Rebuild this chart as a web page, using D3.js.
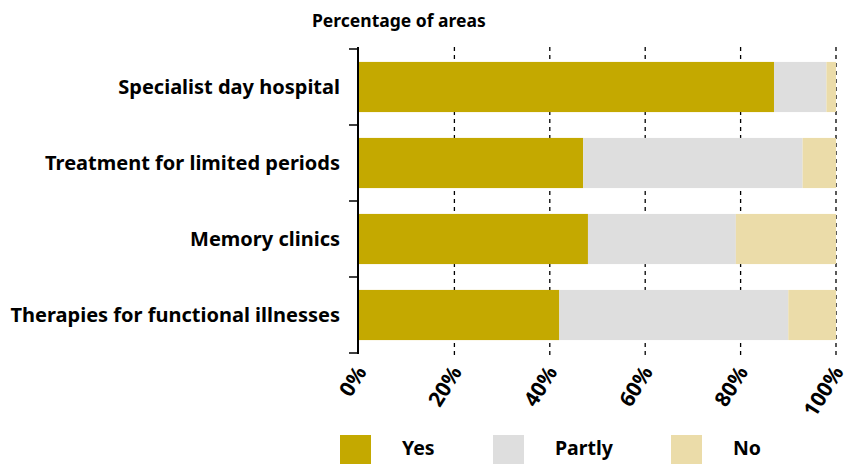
<!DOCTYPE html>
<html><head><meta charset="utf-8">
<script src="https://cdn.jsdelivr.net/npm/d3@7"></script>
<style>body{margin:0;background:#fff}svg{display:block}text{font-family:"Noto Sans",sans-serif;font-weight:bold;fill:#000}</style>
</head><body><svg id="c" width="848" height="464"></svg>
<script>
const categories = ["Specialist day hospital","Treatment for limited periods","Memory clinics","Therapies for functional illnesses"];
const seriesNames = ["Yes","Partly","No"];
const yesValues = [87,47,48,42];
const partlyValues = [11,46,31,48];
const noValues = [2,7,21,10];
const tickValues = [0,20,40,60,80,100];
const colors = ["#C4A900","#DEDEDE","#EBDCA9"];

const svg = d3.select("#c");
const x = d3.scaleLinear().domain([0,100]).range([359,836]);
const y = d3.scaleBand().domain(categories).range([49,353]).paddingInner(0.34).paddingOuter(0.17);

// grid
svg.append("g").selectAll("line").data(tickValues.slice(1)).join("line")
  .attr("x1",d=>x(d)).attr("x2",d=>x(d)).attr("y1",47).attr("y2",355)
  .attr("stroke","#000").attr("stroke-width",1.3).attr("stroke-dasharray","4,4");

const stackData = categories.map((c,i)=>({cat:c, Yes:yesValues[i], Partly:partlyValues[i], No:noValues[i]}));
const stacked = d3.stack().keys(seriesNames)(stackData);
svg.append("g").selectAll("g").data(stacked).join("g").attr("fill",(d,i)=>colors[i])
  .selectAll("rect").data(d=>d).join("rect")
  .attr("x",d=>x(d[0])).attr("width",d=>x(d[1])-x(d[0]))
  .attr("y",d=>y(d.data.cat)).attr("height",y.bandwidth());

// left axis
const ya = svg.append("g").attr("transform","translate(358,0)");
ya.append("line").attr("x1",0).attr("x2",0).attr("y1",47).attr("y2",354).attr("stroke","#000").attr("stroke-width",2);
const bounds = [49,125,201,277,353];
ya.selectAll("line.t").data(bounds).join("line").attr("class","t")
  .attr("x1",-9).attr("x2",0).attr("y1",d=>d).attr("y2",d=>d).attr("stroke","#000").attr("stroke-width",1.5);
svg.append("g").selectAll("text").data(categories).join("text")
  .attr("x",340).attr("y",d=>y(d)+y.bandwidth()/2).attr("dy","0.35em")
  .attr("text-anchor","end").attr("font-size",20).text(d=>d);

// x tick labels
svg.append("g").selectAll("text").data(tickValues).join("text")
  .attr("transform",d=>`translate(${x(d)+2},368) rotate(-58)`)
  .attr("text-anchor","end").attr("dy","0.35em").attr("font-size",21).text(d=>d+"%");

// title
svg.append("text").attr("x",312).attr("y",27).attr("font-size",17.5).text("Percentage of areas");

// legend
const legX = [340,493,671];
const lg = svg.append("g").selectAll("g").data(seriesNames).join("g");
lg.append("rect").attr("x",(d,i)=>legX[i]).attr("y",435).attr("width",31).attr("height",29).attr("fill",(d,i)=>colors[i]);
lg.append("text").attr("x",(d,i)=>legX[i]+62).attr("y",455).attr("font-size",19.5).text(d=>d);
</script></body></html>
